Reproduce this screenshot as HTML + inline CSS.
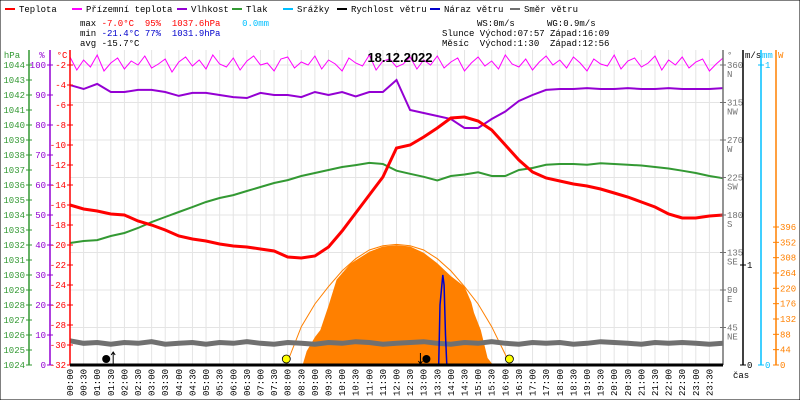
<!DOCTYPE html>
<html><head><meta charset="utf-8">
<style>
body{margin:0;background:#fff;}
svg{display:block;font-family:"Liberation Mono",monospace;}
</style></head>
<body>
<svg id="chart" width="800" height="400" viewBox="0 0 800 400" xmlns="http://www.w3.org/2000/svg">
<rect x="0" y="0" width="800" height="400" fill="#fff" stroke="#000" stroke-width="1"/>
<g id="grid"></g>
<g id="series"></g>
<g id="axes"></g>
<g id="legend"></g>
<g font-size="9">
<text x="80" y="26" xml:space="preserve">max <tspan fill="#f00">-7.0°C</tspan>  <tspan fill="#f00">95%</tspan>  <tspan fill="#f00">1037.6hPa</tspan>    <tspan fill="#00bfff">0.0mm</tspan></text>
<text x="80" y="36" xml:space="preserve">min <tspan fill="#00c">-21.4°C</tspan> <tspan fill="#00c">77%</tspan>  <tspan fill="#00c">1031.9hPa</tspan></text>
<text x="80" y="46">avg -15.7°C</text>
<text x="477" y="26">WS:0m/s</text>
<text x="547" y="26">WG:0.9m/s</text>
<text x="442" y="36" xml:space="preserve">Slunce Východ:07:57 Západ:16:09</text>
<text x="442" y="46" xml:space="preserve">Měsíc  Východ:1:30  Západ:12:56</text>
</g>
<text x="400" y="62" text-anchor="middle" font-family="Liberation Sans, sans-serif" font-weight="bold" font-size="13">18.12.2022</text>
</svg>
<script>
const NS="http://www.w3.org/2000/svg";
const halfHours=[0,0.5,1,1.5,2,2.5,3,3.5,4,4.5,5,5.5,6,6.5,7,7.5,8,8.5,9,9.5,10,10.5,11,11.5,12,12.5,13,13.5,14,14.5,15,15.5,16,16.5,17,17.5,18,18.5,19,19.5,20,20.5,21,21.5,22,22.5,23,23.5,24];
const temperature=[-16.0,-16.4,-16.6,-16.9,-17.0,-17.6,-18.0,-18.5,-19.1,-19.4,-19.6,-19.9,-20.1,-20.2,-20.4,-20.6,-21.2,-21.3,-21.1,-20.2,-18.6,-16.8,-15.0,-13.2,-10.3,-10.0,-9.2,-8.3,-7.3,-7.2,-7.6,-8.5,-10.0,-11.5,-12.7,-13.3,-13.6,-13.9,-14.1,-14.4,-14.8,-15.2,-15.7,-16.2,-16.9,-17.3,-17.3,-17.1,-17.0];
const humidity=[93.3,92,93.7,91,91,91.7,91.7,91,89.7,90.7,90.7,90,89.3,89,90.7,90,90,89.3,91,90,91,89.5,91,91,95,85,84,83,82,79,79,82,84.5,88,90,91.7,92,92,92.3,92,92,92.3,92,92,92.3,92,92,92,92.3];
const pressure=[1032.13,1032.27,1032.33,1032.6,1032.8,1033.13,1033.53,1033.87,1034.2,1034.53,1034.87,1035.13,1035.33,1035.6,1035.87,1036.13,1036.33,1036.6,1036.8,1037.0,1037.2,1037.33,1037.47,1037.4,1036.95,1036.75,1036.55,1036.3,1036.6,1036.7,1036.85,1036.6,1036.6,1037.0,1037.13,1037.35,1037.4,1037.4,1037.35,1037.45,1037.4,1037.35,1037.3,1037.2,1037.1,1036.95,1036.8,1036.6,1036.45];
const windDir=[29,26,27,25,27,26,28,25,26,27,25,27,26,28,26,25,27,26,25,27,26,28,27,25,26,27,28,26,25,27,26,28,26,25,27,26,27,25,26,28,27,26,25,27,26,27,26,25,26];
const feelsLike=[-1.2,-2.5,-1.5,-2.2,-1.0,-2.6,-1.8,-1.3,-2.4,-1.6,-2.0,-1.1,-2.3,-1.9,-1.4,-2.7,-1.7,-1.2,-2.1,-1.5,-2.4,-1.0,-1.9,-2.2,-1.3,-2.5,-1.6,-1.1,-2.0,-1.8,-2.6,-1.4,-1.2,-2.3,-1.7,-2.0,-1.1,-2.4,-1.5,-1.9,-2.6,-1.3,-1.8,-2.1,-1.0,-2.5,-1.6,-1.4,-2.2,-1.9,-1.2,-2.4,-1.5,-2.0,-1.1,-2.3,-1.7,-1.3,-2.6,-1.8,-1.2,-2.1,-1.6,-2.4,-1.0,-1.9,-2.2,-1.4,-2.5,-1.7,-1.1,-2.0,-1.5,-2.3,-1.2,-1.8,-2.6,-1.4,-1.9,-2.1,-1.0,-2.4,-1.6,-1.3,-2.2,-1.8,-1.1,-2.5,-1.5,-2.0,-1.2,-2.3,-1.7,-1.4,-2.6,-1.9,-1.3];
const radTimes=[8.55,8.7,9.0,9.2,9.5,9.8,10.3,11.0,11.5,12.0,12.5,13.0,13.5,14.0,14.5,14.75,14.85,15.1,15.35,15.55];
const radiation=[0,40,80,100,170,245,290,325,340,344,340,322,292,255,225,180,150,100,20,0];
const radMaxTimes=[7.95,8.5,9.0,9.5,10.0,10.5,11.0,11.5,12.0,12.5,13.0,13.5,14.0,14.5,15.0,15.5,16.0,16.15];
const radMax=[0,110,175,225,270,305,330,342,346,342,330,305,270,225,175,110,30,0];
const gustTimes=[13.55,13.6,13.65,13.7,13.75,13.8,13.85];
const gust=[0,0.6,0.75,0.9,0.8,0.3,0];
const hpaTicks=[1024,1025,1026,1027,1028,1029,1030,1031,1032,1033,1034,1035,1036,1037,1038,1039,1040,1041,1042,1043,1044];
const humTicks=[0,10,20,30,40,50,60,70,80,90,100];
const tempTicks=[-32,-30,-28,-26,-24,-22,-20,-18,-16,-14,-12,-10,-8,-6,-4,-2];
const dirTicks=[45,90,135,180,225,270,315,360];
const dirNames=["NE","E","SE","S","SW","W","NW","N"];
const radTicks=[0,44,88,132,176,220,264,308,352,396];

const X0=70,X1=723,Y0=365,YT=65;
const xT=t=>X0+t*(X1-X0)/24;
const yTemp=v=>Y0-(v+32)*10;
const yHpa=v=>Y0-(v-1024)*15;
const yHum=v=>Y0-v*3;
const yDir=v=>Y0-v*300/360;
const yWind=v=>Y0-v*100;
const yRad=v=>Y0-v*0.3485;

function el(tag,attrs,parent){const e=document.createElementNS(NS,tag);for(const k in attrs)e.setAttribute(k,attrs[k]);parent.appendChild(e);return e;}
const grid=document.getElementById('grid'),series=document.getElementById('series'),axes=document.getElementById('axes'),legend=document.getElementById('legend');

for(let i=0;i<=48;i++){const x=xT(i/2);const l=el('line',{x1:x,x2:x,y1:50,y2:Y0,stroke:'#e4e4e4'},grid);

}
for(let k=0;k<8;k++){const y=YT+k*37.5;const l=el('line',{x1:X0,x2:X1,y1:y,y2:y,stroke:'#e4e4e4'},grid);

}

function poly(ts,vs,yf,attrs,name){const pts=ts.map((t,i)=>xT(t).toFixed(1)+','+yf(vs[i]).toFixed(1)).join(' ');const p=el('polyline',Object.assign({points:pts,fill:'none'},attrs),series);

return p;}

{const pts=radTimes.map((t,i)=>xT(t).toFixed(1)+','+yRad(radiation[i]).toFixed(1));pts.push(xT(radTimes[radTimes.length-1])+','+Y0);pts.unshift(xT(radTimes[0])+','+Y0);
const p=el('polygon',{points:pts.join(' '),fill:'#ff8000'},series);

}
poly(radMaxTimes,radMax,yRad,{stroke:'#ff8000','stroke-width':1},'theoretical-radiation-line');
const fTimes=feelsLike.map((v,i)=>i*0.25);
poly(halfHours,windDir,yDir,{stroke:'#707070','stroke-width':5},'wind-direction-line');
poly(fTimes,feelsLike,yTemp,{stroke:'#ff00ff','stroke-width':1},'feels-like-line');
poly(halfHours,pressure,yHpa,{stroke:'#339933','stroke-width':2},'pressure-line');
poly(halfHours,humidity,yHum,{stroke:'#9400d3','stroke-width':2},'humidity-line');
poly(halfHours,temperature,yTemp,{stroke:'#ff0000','stroke-width':3},'temperature-line');
poly(gustTimes,gust,yWind,{stroke:'#0000cc','stroke-width':1.5},'wind-gust-line');

[[7.95,'sunrise-marker'],[16.15,'sunset-marker']].forEach(([t,n])=>{const c=el('circle',{cx:xT(t),cy:359,r:4,fill:'#ffff00',stroke:'#000','stroke-width':0.8},series);

});
[[1.33,'moonrise-marker'],[13.1,'moonset-marker']].forEach(([t,n])=>{const c=el('circle',{cx:xT(t),cy:359,r:4,fill:'#000'},series);

});
el('path',{d:`M${xT(1.33)+7},364 V352 M${xT(1.33)+5},355 L${xT(1.33)+7},352 L${xT(1.33)+9},355`,stroke:'#000',fill:'none'},series);
el('path',{d:`M${xT(13.1)-6},353 V364 M${xT(13.1)-8},361 L${xT(13.1)-6},364 L${xT(13.1)-4},361`,stroke:'#000',fill:'none'},series);

function vaxis(x,color,ticks,yf,side,label,lx,name,anchor){const g=el('g',{},axes);


el('line',{x1:x,x2:x,y1:50,y2:Y0,stroke:color,'stroke-width':1.5},g);
el('text',{x:lx,y:58,fill:color,'font-size':9,'text-anchor':anchor||'middle'},g).textContent=label;
ticks.forEach((v)=>{const y=yf(v);el('line',{x1:x-3,x2:x+3,y1:y,y2:y,stroke:color},g);
const t=el('text',{x:side<0?x-4:x+4,y:y+3,fill:color,'font-size':9,'text-anchor':side<0?'end':'start'},g);t.textContent=v;});}
vaxis(29,'#339933',hpaTicks,yHpa,-1,'hPa',12,'pressure-axis');
vaxis(50,'#9400d3',humTicks,yHum,-1,'%',42,'humidity-axis');
vaxis(70,'#ff0000',tempTicks,yTemp,-1,'°C',62,'temperature-axis');
vaxis(723,'#707070',dirTicks,yDir,1,'°',727,'wind-direction-axis','start');
dirTicks.forEach((v,i)=>{const t=el('text',{x:727,y:yDir(v)+12,fill:'#707070','font-size':9},axes);t.textContent=dirNames[i];});
vaxis(743,'#000',[0,1],yWind,1,'m/s',745,'wind-speed-axis','start');
vaxis(761,'#00bfff',[0,1],v=>Y0-v*300,1,'mm',762,'precip-axis','start');
vaxis(776,'#ff8000',radTicks,yRad,1,'W',778,'radiation-axis','start');
el('line',{x1:X0,x2:X1,y1:Y0,y2:Y0,stroke:'#000','stroke-width':3},axes);
for(let i=0;i<48;i++){const h=Math.floor(i/2),m=i%2?'30':'00';const x=xT(i/2);
const t=el('text',{x:0,y:0,'font-size':9,transform:`translate(${x+3},${396}) rotate(-90)`},axes);t.textContent=(h<10?'0':'')+h+':'+m;

}
{const t=el('text',{x:733,y:378,'font-size':9},axes);t.textContent='čas';

}

const legItems=[['Teplota','#ff0000',5],['Přízemní teplota','#ff00ff',72],['Vlhkost','#9400d3',177],['Tlak','#339933',232],['Srážky','#00bfff',283],['Rychlost větru','#000',337],['Náraz větru','#0000cc',430],['Směr větru','#707070',510]];
legItems.forEach(([n,c,x])=>{const g=el('g',{},legend);


el('line',{x1:x,x2:x+10,y1:9,y2:9,stroke:c,'stroke-width':2},g);
el('text',{x:x+14,y:12,'font-size':9},g).textContent=n;});
</script>
</body></html>
